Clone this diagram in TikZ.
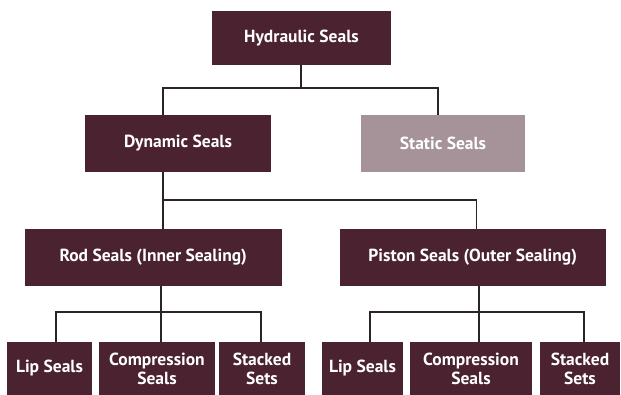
\documentclass[tikz,border=0pt]{standalone}
\usepackage{fontspec}
\setmainfont{PT Sans}
\definecolor{boxdark}{HTML}{4A2230}
\definecolor{boxlight}{HTML}{A6939A}
\definecolor{linecol}{HTML}{2A2426}
\begin{document}
\begin{tikzpicture}[x=1pt,y=-1pt,
  box/.style={rectangle, fill=boxdark, text=white, inner sep=0pt, align=center,
    font=\fontsize{17.5}{19}\selectfont\bfseries},
  lightbox/.style={box, fill=boxlight},
  conn/.style={draw=linecol, line width=1.2pt}]
\useasboundingbox[fill=white] (0,0) rectangle (621,395);
\node[box, minimum width=179pt, minimum height=54pt] (hyd) at (301.5,38) {Hydraulic Seals};
\node[box, minimum width=186pt, minimum height=57pt] (dyn) at (178,143.5) {Dynamic Seals};
\node[lightbox, minimum width=164pt, minimum height=57pt] (sta) at (443,143.5) {Static Seals};
\node[box, minimum width=257.5pt, minimum height=57pt] (rod) at (153.25,257.5) {Rod Seals (Inner Sealing)};
\node[box, minimum width=265.5pt, minimum height=57pt] (pis) at (472.75,257.5) {Piston Seals (Outer Sealing)};
\node[box, minimum width=85pt, minimum height=53pt] (lip1) at (49.5,368.5) {Lip Seals};
\node[box, minimum width=116pt, minimum height=53pt] (com1) at (157,368.5) {Compression\\Seals};
\node[box, minimum width=86pt, minimum height=53pt] (stk1) at (262,368.5) {Stacked\\Sets};
\node[box, minimum width=81pt, minimum height=53pt] (lip2) at (362.5,368.5) {Lip Seals};
\node[box, minimum width=122pt, minimum height=53pt] (com2) at (471,368.5) {Compression\\Seals};
\node[box, minimum width=80pt, minimum height=53pt] (stk2) at (580,368.5) {Stacked\\Sets};
\coordinate (j1) at (0,88);
\coordinate (j2) at (0,200);
\coordinate (j3) at (0,312);
% level 1
\draw[conn] ([xshift=-0.5pt]hyd.south) -- ([xshift=-0.5pt]hyd.south |- j1);
\draw[conn] ([xshift=-15pt]dyn.north) |- (hyd.south |- j1) -| ([xshift=-5pt]sta.north);
% level 2
\draw[conn] ([xshift=-15pt]dyn.south) -- ([xshift=-15pt]dyn.south |- rod.north);
\draw[conn] ([xshift=-15pt]dyn.south |- j2) -| ([xshift=4pt]pis.north);
% level 3 left
\draw[conn] ([xshift=7.75pt]rod.south) -- ([xshift=4pt]com1.north);
\draw[conn] ([xshift=6.5pt]lip1.north) |- ([xshift=4pt]com1.north |- j3) -| ([xshift=-1pt]stk1.north);
% level 3 right
\draw[conn] ([xshift=6.25pt]pis.south) -- ([xshift=8pt]com2.north);
\draw[conn] ([xshift=7.5pt]lip2.north) |- ([xshift=8pt]com2.north |- j3) -| ([xshift=4pt]stk2.north);
\end{tikzpicture}
\end{document}
